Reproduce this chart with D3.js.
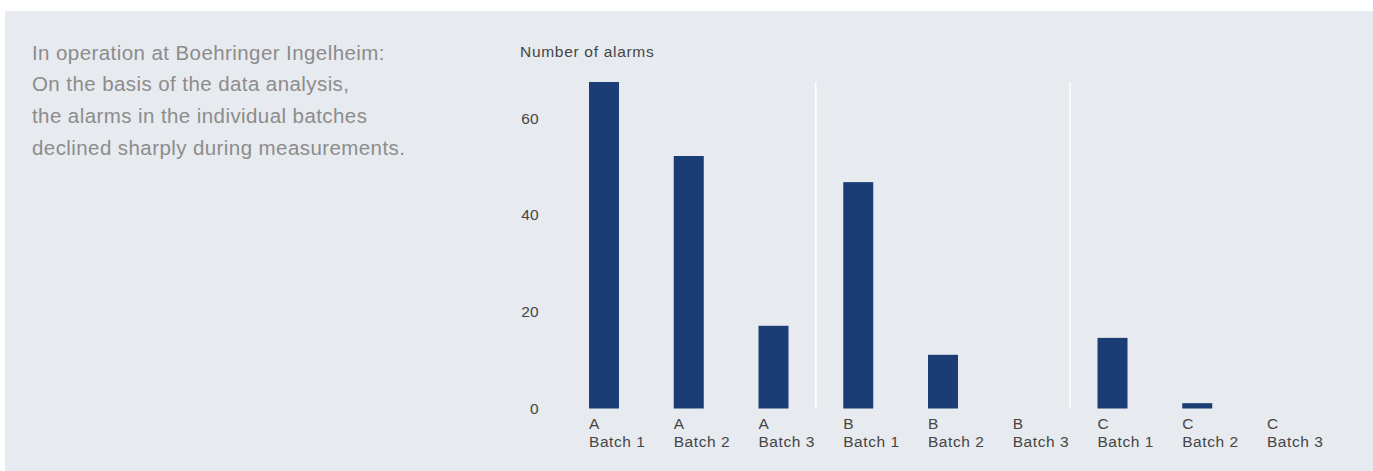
<!DOCTYPE html>
<html>
<head>
<meta charset="utf-8">
<script src="https://cdn.jsdelivr.net/npm/d3@7"></script>
<style>
  html, body { margin: 0; padding: 0; background: #ffffff; }
  svg { display: block; }
  text { font-family: "Liberation Sans", Arial, Helvetica, sans-serif; }
</style>
</head>
<body>
<svg id="chart" width="1373" height="471"></svg>
<script>
// ---- data ----
const lines = [
  "In operation at Boehringer Ingelheim:",
  "On the basis of the data analysis,",
  "the alarms in the individual batches",
  "declined sharply during measurements."
];
const products = ["A", "A", "A", "B", "B", "B", "C", "C", "C"];
const batches = ["Batch 1", "Batch 2", "Batch 3", "Batch 1", "Batch 2", "Batch 3", "Batch 1", "Batch 2", "Batch 3"];
const alarms = [67.5, 52.2, 17.1, 46.8, 11.1, 0, 14.6, 1.1, 0];
const yTicks = [0, 20, 40, 60];
const yTitle = "Number of alarms";

// ---- drawing ----
const svg = d3.select("#chart");
svg.append("rect").attr("x", 5).attr("y", 11).attr("width", 1368).attr("height", 460).attr("fill", "#e7eaef");

// left paragraph
const para = svg.append("text").attr("x", 32).attr("y", 59.5)
  .attr("fill", "#8c8c8c").style("font-size", "20.5px").style("letter-spacing", "0.42px");
para.selectAll("tspan").data(lines).join("tspan")
  .attr("x", 32).attr("dy", (d, i) => i === 0 ? 0 : 31.9).text(d => d);

const ids = products.map((p, i) => i);
const x = d3.scaleBand().domain(ids).range([589, 1297]).paddingInner(0.646).paddingOuter(0).align(0);
const y = d3.scaleLinear().domain([0, 67.5]).range([408.5, 82]);

// separators between product groups
const groupStarts = ids.filter(i => i > 0 && products[i] !== products[i - 1]);
svg.selectAll("line.sep").data(groupStarts).join("line")
  .attr("class", "sep")
  .attr("x1", i => (x(i - 1) + x.bandwidth() + x(i)) / 2)
  .attr("x2", i => (x(i - 1) + x.bandwidth() + x(i)) / 2)
  .attr("y1", y(67.5)).attr("y2", y(0))
  .attr("stroke", "#ffffff").attr("stroke-width", 1.4);

// bars
svg.selectAll("rect.bar").data(ids).join("rect")
  .attr("class", "bar")
  .attr("x", i => x(i))
  .attr("width", x.bandwidth())
  .attr("y", i => y(alarms[i]))
  .attr("height", i => y(0) - y(alarms[i]))
  .attr("fill", "#1a3d74");

// y axis
const yAxis = svg.append("g").attr("transform", "translate(539,0)")
  .call(d3.axisLeft(y).tickValues(yTicks).tickSize(0).tickPadding(0));
yAxis.select(".domain").remove();
yAxis.selectAll("text").attr("fill", "#454545").style("font-size", "15.5px")
  .style("font-family", "'Liberation Sans', Arial, sans-serif").style("letter-spacing", "0.3px");

svg.append("text").attr("x", 520).attr("y", 57).attr("fill", "#454545")
  .style("font-size", "15.5px").style("letter-spacing", "0.7px").text(yTitle);

// x labels
const xl = svg.selectAll("text.xl").data(ids).join("text")
  .attr("class", "xl").attr("fill", "#454545").style("font-size", "15.5px").style("letter-spacing", "0.55px");
xl.append("tspan").attr("x", i => x(i)).attr("y", 428.5).text(i => products[i]);
xl.append("tspan").attr("x", i => x(i)).attr("y", 446.5).text(i => batches[i]);
</script>
</body>
</html>
